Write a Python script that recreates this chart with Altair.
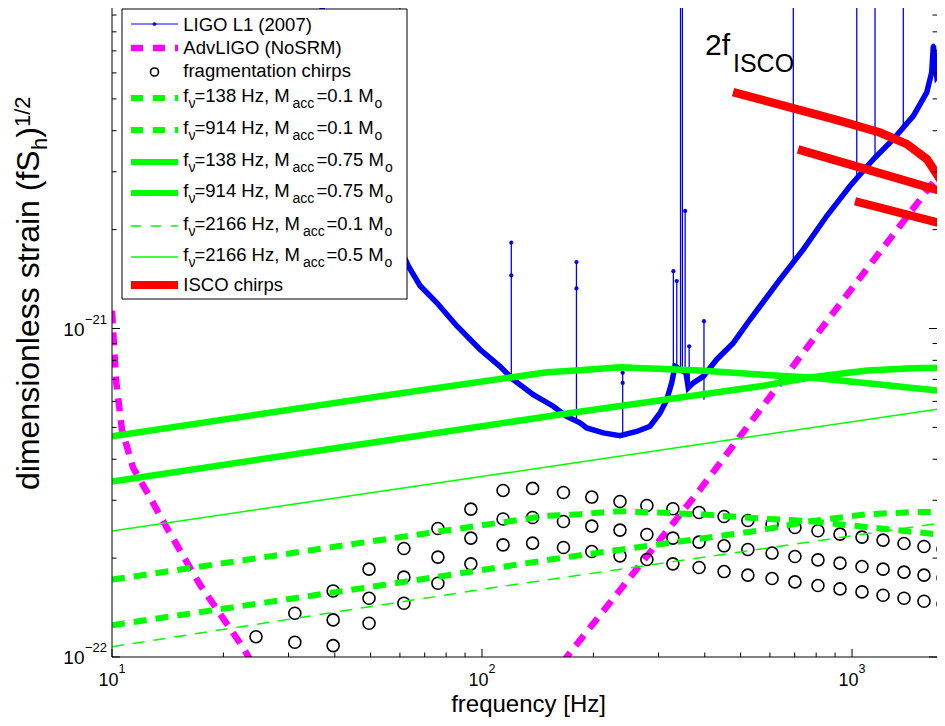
import altair as alt
import pandas as pd

FONT = "Liberation Sans"
BLUE, MAGENTA, GREEN, RED, BLACK = "#0000ff", "#ff00ff", "#00ff00", "#ff0000", "#000000"

W, H = 825, 649
F_DOMAIN = [10, 1697]
H_DOMAIN = [1e-22, 9.455e-21]

# ---------------- data ----------------
# LIGO L1 (2007): continuum
ligo_f = [25, 30, 36.5, 45, 55, 63.2, 68.0, 75.4, 85.4, 98.8, 111.8, 121.5, 137.6, 155.8, 169.4,
          184.0, 191.9, 212.7, 236, 261.9, 284.6, 302.8, 315.7, 325.6, 332.3, 355.9, 361.0, 372.5,
          396.3, 430.8, 477.8, 530.1, 564, 638.9, 738.7, 854.3, 987.7, 1142, 1293, 1465, 1592,
          1642, 1659, 1694, 1762, 1784]
ligo_h = [1.0e-19, 3.0e-20, 1.0e-20, 4.0e-21, 2.2e-21, 15.5e-22, 13.5e-22, 12.0e-22, 10.2e-22,
          8.63e-22, 7.67e-22, 6.99e-22, 6.29e-22, 5.80e-22, 5.40e-22, 5.16e-22, 4.98e-22, 4.81e-22,
          4.72e-22, 4.86e-22, 5.04e-22, 5.53e-22, 6.07e-22, 6.83e-22, 7.67e-22, 7.33e-22, 6.60e-22,
          6.83e-22, 7.15e-22, 8.05e-22, 9.04e-22, 10.65e-22, 11.69e-22, 14.11e-22, 17.41e-22,
          22.0e-22, 27.16e-22, 32.75e-22, 37.69e-22, 44.4e-22, 52.3e-22, 60.2e-22, 72.6e-22,
          58.8e-22, 63.0e-22, 70.0e-22]
# LIGO L1 (2007): narrow lines
spike_f = [60, 120, 180, 240, 329, 336, 344, 348, 354, 363, 398, 694, 1030, 1154, 1376, 1729]
spike_lo = [17.5e-22, 6.99e-22, 5.16e-22, 4.72e-22, 7.0e-22, 7.5e-22, 7.6e-22, 7.5e-22, 7.33e-22,
            6.6e-22, 6.07e-22, 15.5e-22, 28.5e-22, 33.0e-22, 40.0e-22, 60.0e-22]
spike_hi = [3e-20, 18.25e-22, 15.93e-22, 7.33e-22, 14.95e-22, 13.94e-22, 3e-20, 3e-20, 22.8e-22,
            8.83e-22, 10.53e-22, 3e-20, 3e-20, 3e-20, 3e-20, 3e-20]
sdot_f = [120, 120, 180, 180, 240, 240, 329, 336, 354, 363, 398]
sdot_h = [18.25e-22, 14.5e-22, 15.93e-22, 13.24e-22, 7.33e-22, 6.83e-22, 14.95e-22, 13.94e-22,
          22.8e-22, 8.83e-22, 10.53e-22]

# AdvLIGO (NoSRM)
adv_f = [10, 10.25, 10.64, 11.40, 12.43, 14.08, 17.29, 22.6, 25.9, 143.5, 172.9, 388, 890, 1784]
adv_h = [11.34e-22, 6.99e-22, 4.92e-22, 3.77e-22, 3.18e-22, 2.47e-22, 1.66e-22, 1.07e-22, 0.82e-22,
         0.78e-22, 1.03e-22, 3.23e-22, 11.17e-22, 31.0e-22]

# fragmentation chirps (three tracks on a common frequency grid)
frag_f = [24.5, 31.2, 39.6, 49.5, 61.5, 76.0, 93.3, 114, 137, 166, 198, 236, 279, 328, 386, 451,
          523, 608, 701, 809, 928, 1064, 1213, 1382, 1565, 1762]
frag_top = [1.153e-22, 1.359e-22, 1.589e-22, 1.851e-22, 2.139e-22, 2.461e-22, 2.820e-22, 3.214e-22,
            3.260e-22, 3.169e-22, 3.068e-22, 2.975e-22, 2.893e-22, 2.827e-22, 2.754e-22, 2.678e-22,
            2.604e-22, 2.539e-22, 2.479e-22, 2.422e-22, 2.366e-22, 2.317e-22, 2.269e-22, 2.215e-22,
            2.169e-22, 2.130e-22]
frag_mid = [1.109e-22, 1.297e-22, 1.510e-22, 1.750e-22, 2.014e-22, 2.301e-22, 2.630e-22, 2.659e-22,
            2.586e-22, 2.503e-22, 2.434e-22, 2.360e-22, 2.301e-22, 2.237e-22, 2.180e-22, 2.124e-22,
            2.072e-22, 2.022e-22, 1.975e-22, 1.931e-22, 1.885e-22, 1.851e-22, 1.813e-22, 1.775e-22,
            1.741e-22]
frag_low = [1.083e-22, 1.267e-22, 1.458e-22, 1.677e-22, 1.921e-22, 2.195e-22, 2.222e-22, 2.154e-22,
            2.094e-22, 2.032e-22, 1.980e-22, 1.921e-22, 1.872e-22, 1.820e-22, 1.775e-22, 1.733e-22,
            1.693e-22, 1.650e-22, 1.612e-22, 1.578e-22, 1.542e-22, 1.510e-22, 1.478e-22, 1.451e-22]

# accretion spectra (green)
g138_f = [10, 53, 150, 184, 236, 388, 564, 770, 1119, 1784]
g138_075_h = [4.70e-22, 6.22e-22, 7.36e-22, 7.46e-22, 7.62e-22, 7.45e-22, 7.24e-22, 7.09e-22, 6.80e-22, 6.44e-22]
g138_01_h = [1.72e-22, 2.27e-22, 2.69e-22, 2.72e-22, 2.78e-22, 2.72e-22, 2.64e-22, 2.59e-22, 2.48e-22, 2.35e-22]
g914_f = [10, 53, 162.5, 564, 770, 1098, 1462, 1784]
g914_075_h = [3.42e-22, 4.53e-22, 5.47e-22, 6.67e-22, 7.09e-22, 7.45e-22, 7.57e-22, 7.60e-22]
g914_01_h = [1.25e-22, 1.65e-22, 2.00e-22, 2.43e-22, 2.59e-22, 2.72e-22, 2.76e-22, 2.77e-22]
g2166_f = [10, 111.8, 1784]
g2166_01_h = [1.075e-22, 1.638e-22, 2.567e-22]
g2166_05_h = [2.42e-22, 3.61e-22, 5.73e-22]

# ISCO chirps (red)
isco1_f = [476.9, 680, 928, 1190, 1408, 1595, 1729, 1784, 1840]
isco1_h = [52.4e-22, 47.1e-22, 42.85e-22, 39.5e-22, 36.4e-22, 32.75e-22, 28.5e-22, 26.2e-22, 23.9e-22]
isco2_f = [714.7, 1119, 1784]
isco2_h = [35.1e-22, 30.3e-22, 26.0e-22]
isco3_f = [1019, 1784]
isco3_h = [24.4e-22, 20.75e-22]

# axis ticks and labels
x_major = [10, 100, 1000]
x_minor = [20, 30, 40, 50, 60, 70, 80, 90, 200, 300, 400, 500, 600, 700, 800, 900]
x_exp = ["1", "2", "3"]
y_major = [1e-22, 1e-21]
y_minor = [2e-22, 3e-22, 4e-22, 5e-22, 6e-22, 7e-22, 8e-22, 9e-22,
           2e-21, 3e-21, 4e-21, 5e-21, 6e-21, 7e-21, 8e-21, 9e-21]
y_exp = ["\u221222", "\u221221"]

# ---------------- helpers ----------------
xs = alt.Scale(type="log", domain=F_DOMAIN, nice=False)
ys = alt.Scale(type="log", domain=H_DOMAIN, nice=False)


def X(field="f"):
    return alt.X(f"{field}:Q", scale=xs, axis=None)


def Y(field="h"):
    return alt.Y(f"{field}:Q", scale=ys, axis=None)


def curve(f, h, color, width, dash=None):
    kw = dict(color=color, strokeWidth=width, clip=True)
    if dash:
        kw["strokeDash"] = dash
    return alt.Chart(pd.DataFrame({"f": f, "h": h})).mark_line(**kw).encode(x=X(), y=Y())


one = pd.DataFrame({"k": [0]})


def text_at(s, x, y, size, align="left", angle=0):
    return alt.Chart(one).mark_text(
        text=s, font=FONT, fontSize=size, align=align, baseline="alphabetic",
        angle=angle, color=BLACK).encode(x=alt.value(x), y=alt.value(y))


def seg(x1, x2, y, color, width, dash=None):
    kw = dict(color=color, strokeWidth=width)
    if dash:
        kw["strokeDash"] = dash
    return alt.Chart(one).mark_rule(**kw).encode(x=alt.value(x1), x2=alt.value(x2), y=alt.value(y))


layers = []

# ---------------- data layers ----------------
# LIGO
layers.append(alt.Chart(pd.DataFrame({"f": spike_f, "lo": spike_lo, "hi": spike_hi}))
              .mark_rule(color=BLUE, strokeWidth=1.3, clip=True)
              .encode(x=X(), y=Y("lo"), y2="hi:Q"))
layers.append(curve(ligo_f, ligo_h, BLUE, 5.5))
layers.append(alt.Chart(pd.DataFrame({"f": ligo_f + sdot_f, "h": ligo_h + sdot_h}))
              .mark_point(filled=True, color=BLUE, size=18, opacity=1, clip=True)
              .encode(x=X(), y=Y()))
# AdvLIGO
layers.append(curve(adv_f, adv_h, MAGENTA, 6.5, [13, 9]))
# fragmentation chirps
frag_df = pd.DataFrame({"f": frag_f + frag_f[1:] + frag_f[2:],
                        "h": frag_top + frag_mid + frag_low})
layers.append(alt.Chart(frag_df).mark_point(shape="circle", filled=False, color=BLACK,
                                            size=144, strokeWidth=1.6, opacity=1, clip=True)
              .encode(x=X(), y=Y()))
# green spectra
layers.append(curve(g138_f, g138_01_h, GREEN, 6, [13, 9]))
layers.append(curve(g914_f, g914_01_h, GREEN, 6, [13, 9]))
layers.append(curve(g138_f, g138_075_h, GREEN, 6.5))
layers.append(curve(g914_f, g914_075_h, GREEN, 6.5))
layers.append(curve(g2166_f, g2166_01_h, GREEN, 1.5, [12, 9]))
layers.append(curve(g2166_f, g2166_05_h, GREEN, 1.5))
# ISCO chirps
layers.append(curve(isco1_f, isco1_h, RED, 8.5))
layers.append(curve(isco2_f, isco2_h, RED, 8.5))
layers.append(curve(isco3_f, isco3_h, RED, 8.5))

# annotation
layers.append(text_at("2f", 593, 47, 30))
layers.append(text_at("ISCO", 621, 64, 25))

# ---------------- frame, ticks, labels ----------------
layers.append(alt.Chart(one).mark_rule(color=BLACK, strokeWidth=1)
              .encode(x=alt.value(0), y=alt.value(0), y2=alt.value(H)))
layers.append(alt.Chart(one).mark_rule(color=BLACK, strokeWidth=1)
              .encode(x=alt.value(0), x2=alt.value(W), y=alt.value(H)))
for vals, L in ((x_major, 8), (x_minor, 4.5)):
    layers.append(alt.Chart(pd.DataFrame({"f": vals})).mark_rule(color=BLACK, strokeWidth=1)
                  .encode(x=X(), y=alt.value(H), y2=alt.value(H - L)))
for vals, L in ((y_major, 8), (y_minor, 4.5)):
    dfv = pd.DataFrame({"h": vals})
    layers.append(alt.Chart(dfv).mark_rule(color=BLACK, strokeWidth=1)
                  .encode(y=Y(), x=alt.value(0), x2=alt.value(L)))
    layers.append(alt.Chart(dfv).mark_rule(color=BLACK, strokeWidth=1)
                  .encode(y=Y(), x=alt.value(W - L), x2=alt.value(W)))

xl = pd.DataFrame({"f": x_major, "e": x_exp})
layers.append(alt.Chart(xl).mark_text(text="10", font=FONT, fontSize=18, align="right",
                                      baseline="alphabetic", dx=6.5, color=BLACK)
              .encode(x=X(), y=alt.value(678)))
layers.append(alt.Chart(xl).mark_text(font=FONT, fontSize=12.5, align="left",
                                      baseline="alphabetic", dx=6.5, color=BLACK)
              .encode(x=X(), y=alt.value(664.5), text="e:N"))
yl = pd.DataFrame({"h": y_major, "e": y_exp})
layers.append(alt.Chart(yl).mark_text(text="10", font=FONT, fontSize=19, align="right",
                                      baseline="alphabetic", dy=7, color=BLACK)
              .encode(y=Y(), x=alt.value(-27.5)))
layers.append(alt.Chart(yl).mark_text(font=FONT, fontSize=13, align="right",
                                      baseline="alphabetic", dy=-5, color=BLACK)
              .encode(y=Y(), x=alt.value(-5), text="e:N"))

# axis titles
layers.append(text_at("frequency [Hz]", 416.5, 704, 24, align="center"))
layers.append(text_at("dimensionless strain (fS", -73.5, 482, 32, angle=270))
layers.append(text_at("h", -65.5, 142, 22, angle=270))
layers.append(text_at(")", -73.5, 129.8, 32, angle=270))
layers.append(text_at("1/2", -82.5, 119.1, 22, angle=270))

# ---------------- legend ----------------
layers.append(alt.Chart(one).mark_rect(fill="white", stroke=BLACK, strokeWidth=1)
              .encode(x=alt.value(10), x2=alt.value(295), y=alt.value(1), y2=alt.value(291)))
SX1, SX2, SXC, TX = 19, 66, 42.5, 71.3
sym_y = [16, 40, 64, 90, 122, 154, 185, 218, 249, 277]
txt_y = [23, 46, 69, 94, 126, 158, 189, 222, 253, 283]
MAIN, SUB = 18.5, 14

layers.append(seg(SX1, SX2, sym_y[0], BLUE, 1))
layers.append(alt.Chart(one).mark_point(filled=True, color=BLUE, size=14, opacity=1)
              .encode(x=alt.value(SXC), y=alt.value(sym_y[0])))
layers.append(seg(SX1, SX2, sym_y[1], MAGENTA, 6.5, [12, 10]))
layers.append(alt.Chart(one).mark_point(shape="circle", filled=False, color=BLACK, size=64,
                                        strokeWidth=1.6, opacity=1)
              .encode(x=alt.value(SXC), y=alt.value(sym_y[2])))
layers.append(seg(SX1, SX2, sym_y[3], GREEN, 6, [12, 10]))
layers.append(seg(SX1, SX2, sym_y[4], GREEN, 6, [12, 10]))
layers.append(seg(SX1, SX2, sym_y[5], GREEN, 6))
layers.append(seg(SX1, SX2, sym_y[6], GREEN, 6))
layers.append(seg(SX1, SX2, sym_y[7], GREEN, 1.5, [10, 10]))
layers.append(seg(SX1, SX2, sym_y[8], GREEN, 1.5))
layers.append(seg(SX1, SX2, sym_y[9], RED, 8))

layers.append(text_at("LIGO L1 (2007)", TX, txt_y[0], MAIN))
layers.append(text_at("AdvLIGO (NoSRM)", TX, txt_y[1], MAIN))
layers.append(text_at("fragmentation chirps", TX, txt_y[2], MAIN))
layers.append(text_at("ISCO chirps", TX, txt_y[9], MAIN))

rows = [
    (3, "=138 Hz, M", "=0.1 M", 180.5, 204.5, 262.5),
    (4, "=914 Hz, M", "=0.1 M", 180.5, 204.5, 262.5),
    (5, "=138 Hz, M", "=0.75 M", 180.5, 204.5, 273.0),
    (6, "=914 Hz, M", "=0.75 M", 180.5, 204.5, 273.0),
    (7, "=2166 Hz, M", "=0.1 M", 191.0, 214.5, 272.5),
    (8, "=2166 Hz, M", "=0.5 M", 191.0, 214.5, 272.5),
]
for i, a, b, xacc, xb, xo in rows:
    yb = txt_y[i]
    layers.append(text_at("f", TX, yb, MAIN))
    layers.append(text_at("\u03bd", 76.5, yb + 6, SUB))
    layers.append(text_at(a, 82.5, yb, MAIN))
    layers.append(text_at("acc", xacc, yb + 6, SUB))
    layers.append(text_at(b, xb, yb, MAIN))
    layers.append(text_at("o", xo, yb + 6, SUB))

chart = alt.layer(*layers).properties(
    width=W, height=H,
    autosize=alt.AutoSizeParams(type="none"),
    padding={"left": 104, "top": 0, "right": 0, "bottom": 61},
).configure_view(stroke=None)

chart.save("out.html", embed_options={"renderer": "svg", "actions": False})
